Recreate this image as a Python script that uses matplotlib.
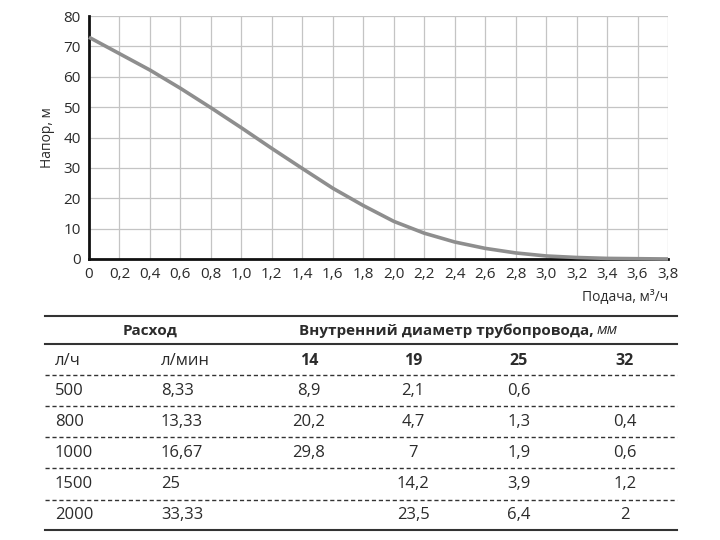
import numpy as np
import matplotlib.pyplot as plt
from matplotlib.lines import Line2D

plt.rcParams['font.family'] = ['Open Sans', 'DejaVu Sans']

# pump curve
flow = [0, 0.2, 0.4, 0.6, 0.8, 1.0, 1.2, 1.4, 1.6, 1.8, 2.0,
        2.2, 2.4, 2.6, 2.8, 3.0, 3.2, 3.4, 3.6, 3.8]
head = [73, 67.6, 62.2, 56.2, 49.8, 43.2, 36.4, 29.8, 23.3, 17.6, 12.4,
        8.5, 5.6, 3.5, 2.0, 1.0, 0.5, 0.2, 0.1, 0.0]

# table
lph = ['500', '800', '1000', '1500', '2000']
lpm = ['8,33', '13,33', '16,67', '25', '33,33']
diameters = ['14', '19', '25', '32']
loss_14 = ['8,9', '20,2', '29,8', '', '']
loss_19 = ['2,1', '4,7', '7', '14,2', '23,5']
loss_25 = ['0,6', '1,3', '1,9', '3,9', '6,4']
loss_32 = ['', '0,4', '0,6', '1,2', '2']

W, H = 720, 540
txt = '#2b2b2b'

fig = plt.figure(figsize=(7.2, 5.4), dpi=100)
ax = fig.add_axes([89 / W, 1 - 259 / H, (668 - 89) / W, (259 - 16) / H])
ax.plot(flow, head, color='#8e8e8e', lw=2.6, solid_capstyle='butt', clip_on=False, zorder=3)
ax.set_xlim(0, 3.8)
ax.set_ylim(0, 80)
xt = np.round(np.arange(0, 3.81, 0.2), 1)
ax.set_xticks(xt)
ax.set_xticklabels(['0'] + [f'{v:.1f}'.replace('.', ',') for v in xt[1:]])
ax.set_yticks(range(0, 81, 10))
ax.grid(True, color='#c4c4c4', lw=0.9)
ax.tick_params(length=0, labelsize=11, colors=txt, pad=6)
for s in ['top', 'right']:
    ax.spines[s].set_visible(False)
ax.spines['left'].set_linewidth(2.0)
ax.spines['bottom'].set_linewidth(2.0)
ax.spines['left'].set_color('#111111')
ax.spines['bottom'].set_color('#111111')
ax.set_ylabel('Напор, м', fontsize=10, color=txt, labelpad=6)
fig.text(668 / W, 1 - 297 / H, 'Подача, м³/ч', ha='right', va='center', fontsize=10, color=txt)


def fy(y):
    return 1 - y / H


def hline(y, style='-', lw=1.5):
    fig.add_artist(Line2D([45 / W, 677 / W], [fy(y), fy(y)], color='#333333', lw=lw,
                          linestyle=style if style == '-' else (0, (3, 2))))


hline(316)
hline(344)
hline(530)
for y in [375, 406, 437, 468, 500]:
    hline(y, style='--', lw=1.0)

fs = 12
fb = 11
fig.text(150 / W, fy(331), 'Расход', ha='center', va='center', fontsize=fb, fontweight='bold', color=txt)
fig.text(594 / W, fy(331), 'Внутренний диаметр трубопровода,', ha='right', va='center',
         fontsize=fb, fontweight='bold', color=txt)
fig.text(597 / W, fy(331), 'мм', ha='left', va='center', fontsize=fb, fontstyle='italic', color=txt)

fig.text(55 / W, fy(361), 'л/ч', ha='left', va='center', fontsize=fs, color=txt)
fig.text(161 / W, fy(361), 'л/мин', ha='left', va='center', fontsize=fs, color=txt)
col_x = [309, 413, 519, 625]
for x, d in zip(col_x, diameters):
    fig.text(x / W, fy(361), d, ha='center', va='center', fontsize=fb + 0.5, fontweight='bold', color=txt)

row_y = [391, 422, 453, 484, 515]
for i, y in enumerate(row_y):
    fig.text(55 / W, fy(y), lph[i], ha='left', va='center', fontsize=fs, color=txt)
    fig.text(161 / W, fy(y), lpm[i], ha='left', va='center', fontsize=fs, color=txt)
    for x, col in zip(col_x, [loss_14, loss_19, loss_25, loss_32]):
        fig.text(x / W, fy(y), col[i], ha='center', va='center', fontsize=fs, color=txt)

fig.savefig('out.png', dpi=100)
